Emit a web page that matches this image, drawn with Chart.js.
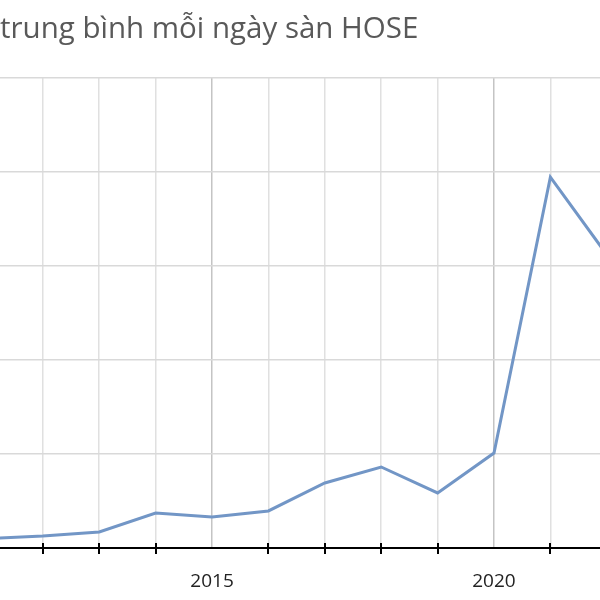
<!DOCTYPE html>
<html>
<head>
<meta charset="utf-8">
<script src="https://cdn.jsdelivr.net/npm/chart.js@4.4.1/dist/chart.umd.min.js"></script>
<style>
  html, body { margin: 0; padding: 0; background: #ffffff; }
  #wrap { width: 600px; height: 600px; }
</style>
</head>
<body>
<div id="wrap"><canvas id="c" width="600" height="600"></canvas></div>
<script>
// Data (average daily trading value on HOSE, billion VND)
const years = [2011, 2012, 2013, 2014, 2015, 2016, 2017, 2018, 2019, 2020, 2021, 2022];
const values = [500, 640, 850, 1860, 1650, 1970, 3460, 4310, 2930, 5050, 19730, 15600];
const xTickLabels = ['2015', '2020'];
const yTicks = [0, 5000, 10000, 15000, 20000, 25000];
const titleText = 'trung bình mỗi ngày sàn HOSE';

const X_MIN = 2011.24, X_MAX = 2021.88;
const points = years.map((y, i) => ({ x: y, y: values[i] }));

// Minor tick marks that cross the x-axis line (placed through the x scale)
const crossTicks = {
  id: 'crossTicks',
  afterDraw(chart) {
    const sx = chart.scales.x;
    const ctx = chart.ctx;
    const y0 = sx.top;
    ctx.save();
    ctx.strokeStyle = '#000000';
    ctx.lineWidth = 2;
    sx.ticks.forEach(t => {
      if (t.value % 5 === 0) return;
      const px = Math.round(sx.getPixelForValue(t.value));
      ctx.beginPath();
      ctx.moveTo(px, y0 - 5);
      ctx.lineTo(px, y0 + 6);
      ctx.stroke();
    });
    ctx.restore();
  }
};

new Chart(document.getElementById('c'), {
  type: 'line',
  data: {
    datasets: [{
      data: points,
      borderColor: '#7296c6',
      borderWidth: 3,
      pointRadius: 0,
      tension: 0,
      fill: false
    }]
  },
  options: {
    responsive: false,
    animation: false,
    devicePixelRatio: 1,
    layout: { padding: 0 },
    plugins: {
      legend: { display: false },
      tooltip: { enabled: false },
      title: {
        display: true,
        text: titleText,
        align: 'start',
        color: '#595959',
        font: { family: 'Open Sans', size: 29.5, weight: 'normal', lineHeight: 1.2 },
        padding: { top: 12, bottom: 30.6 }
      }
    },
    scales: {
      x: {
        type: 'linear',
        min: X_MIN,
        max: X_MAX,
        afterBuildTicks: (axis) => {
          axis.ticks = years.filter(v => v >= X_MIN && v <= X_MAX).map(v => ({ value: v }));
        },
        afterFit: (axis) => { axis.height = 52; axis.paddingLeft = 0; axis.paddingRight = 0; },
        border: { display: true, color: '#000000', width: 2 },
        grid: {
          color: (ctx) => (ctx.tick && ctx.tick.value % 5 === 0) ? '#c4c4c4' : '#e0e0e0',
          lineWidth: 1.5,
          tickColor: 'rgba(0,0,0,0)',
          tickLength: 7
        },
        ticks: {
          autoSkip: false,
          maxRotation: 0,
          color: '#222222',
          padding: 15,
          font: { family: 'Open Sans', size: 19 },
          callback: (v) => xTickLabels.includes(String(v)) ? String(v) : ''
        }
      },
      y: {
        min: 0,
        max: 25000,
        afterBuildTicks: (axis) => { axis.ticks = yTicks.map(v => ({ value: v })); },
        afterFit: (axis) => { axis.width = 0; },
        border: { display: false },
        grid: { color: '#d9d9d9', lineWidth: 1.5, drawTicks: false },
        ticks: { display: false }
      }
    }
  },
  plugins: [crossTicks]
});
</script>
</body>
</html>
